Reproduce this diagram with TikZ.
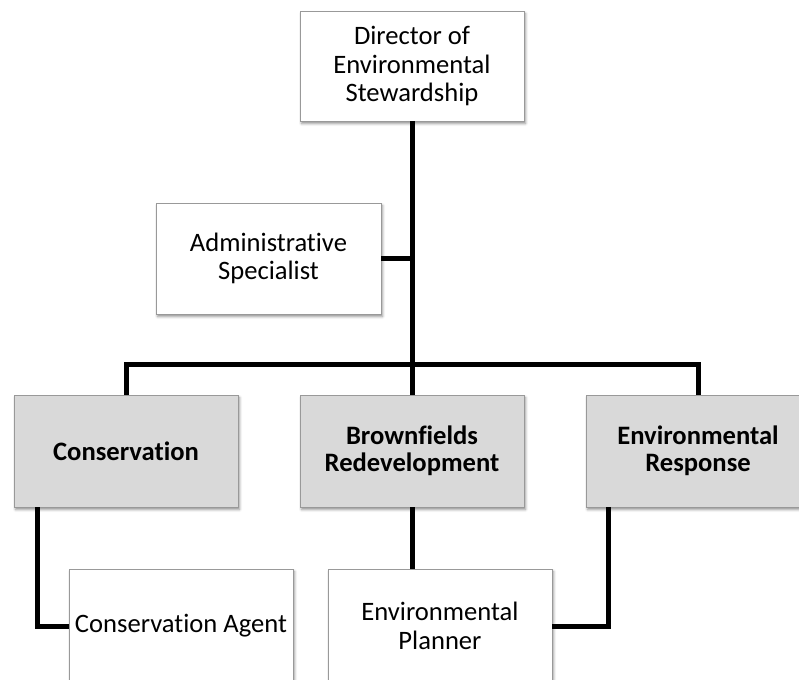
\documentclass[tikz,border=0pt]{standalone}
\usepackage{fontspec}
\setmainfont{Carlito}[Ligatures=CommonOff]
\usetikzlibrary{calc,shadows.blur}
\definecolor{boxline}{HTML}{999999}
\definecolor{unitfill}{HTML}{D9D9D9}
\begin{document}
\begin{tikzpicture}[x=1pt,y=-1pt,
  orgbox/.style={draw=boxline, line width=0.8pt, fill=white, align=center,
    minimum width=224pt, minimum height=112pt, inner sep=0pt,
    font=\fontsize{26.6}{28.5}\selectfont,
    blur shadow={shadow xshift=1.5pt, shadow yshift=-2.5pt, shadow blur radius=2.5pt, shadow opacity=45}},
  unitbox/.style={orgbox, fill=unitfill, font=\fontsize{26.6}{27}\selectfont\bfseries},
  link/.style={line width=5pt, line join=miter}]
\useasboundingbox (0,0) rectangle (799,679);
\clip (0,0) rectangle (799,679);

% boxes
\node[orgbox, minimum height=110pt] (dir) at (412,66) {Director of\\Environmental\\Stewardship};
\node[orgbox, minimum width=225pt, minimum height=111pt] (admin) at (268.5,258.5) {Administrative\\Specialist};
\node[unitbox] (cons)  at (126,451) {Conservation};
\node[unitbox] (brown) at (412,451) {Brownfields\\Redevelopment};
\node[unitbox] (resp)  at (698,451) {Environmental\\Response};
\node[orgbox, minimum height=114pt] (agent)   at (181,626) {Conservation Agent};
\node[orgbox, minimum height=114pt] (planner) at (440,626) {Environmental\\Planner};

% junction of the unit bus
\coordinate (bus) at (412,364);

% connectors
\draw[link] (dir.south) -- (bus);
\draw[link] (admin.east) -- (admin.east -| bus);
\draw[link] (cons.north) |- (bus) -| (resp.north);
\draw[link] (bus) -- (brown.north);
\draw[link] ($(cons.south west)+(24,0)$) |- (agent.west);
\draw[link] (brown.south) -- (brown.south |- planner.north);
\draw[link] ($(resp.south west)+(23,0)$) |- (planner.east);
\end{tikzpicture}
\end{document}
